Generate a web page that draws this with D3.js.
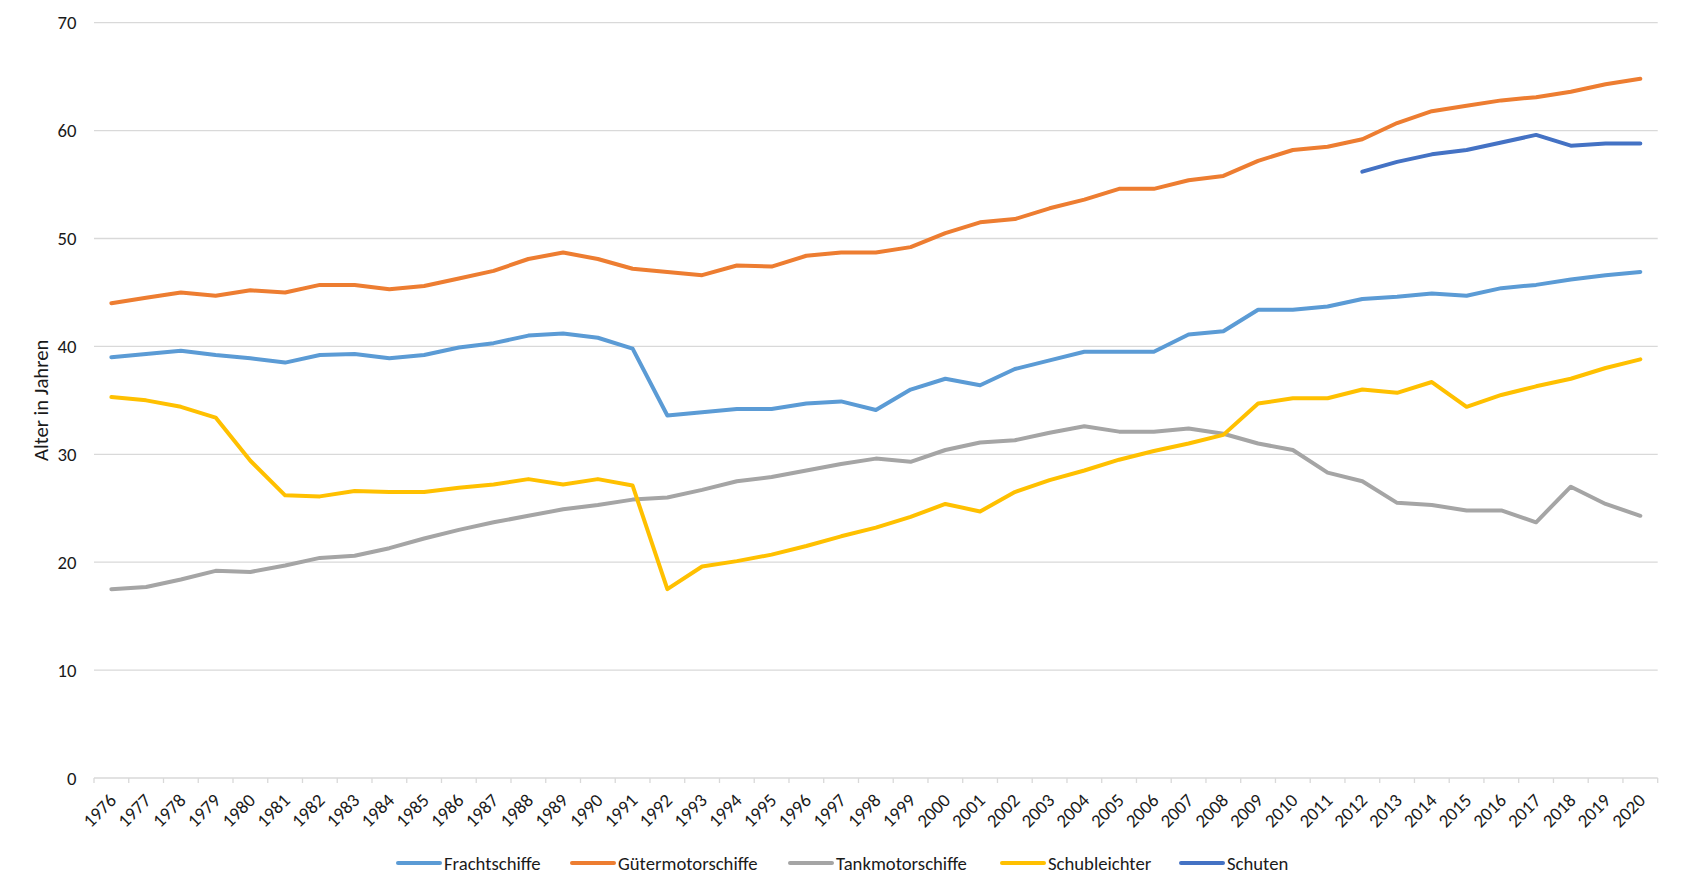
<!DOCTYPE html>
<html>
<head>
<meta charset="utf-8">
<script src="https://cdn.jsdelivr.net/npm/d3@7"></script>
<style>
  html, body { margin: 0; padding: 0; background: #fff; }
  svg { display: block; }
  text { font-family: Carlito, Lato, "Open Sans", sans-serif; fill: #1a1a1a; }
</style>
</head>
<body>
<svg id="chart" width="1681" height="894"></svg>
<script>
const years = ["1976","1977","1978","1979","1980","1981","1982","1983","1984","1985","1986","1987","1988","1989","1990","1991","1992","1993","1994","1995","1996","1997","1998","1999","2000","2001","2002","2003","2004","2005","2006","2007","2008","2009","2010","2011","2012","2013","2014","2015","2016","2017","2018","2019","2020"];

const frachtschiffe = [39.0,39.3,39.6,39.2,38.9,38.5,39.2,39.3,38.9,39.2,39.9,40.3,41.0,41.2,40.8,39.8,33.6,33.9,34.2,34.2,34.7,34.9,34.1,36.0,37.0,36.4,37.9,38.7,39.5,39.5,39.5,41.1,41.4,43.4,43.4,43.7,44.4,44.6,44.9,44.7,45.4,45.7,46.2,46.6,46.9];
const guetermotorschiffe = [44.0,44.5,45.0,44.7,45.2,45.0,45.7,45.7,45.3,45.6,46.3,47.0,48.1,48.7,48.1,47.2,46.9,46.6,47.5,47.4,48.4,48.7,48.7,49.2,50.5,51.5,51.8,52.8,53.6,54.6,54.6,55.4,55.8,57.2,58.2,58.5,59.2,60.7,61.8,62.3,62.8,63.1,63.6,64.3,64.8];
const tankmotorschiffe = [17.5,17.7,18.4,19.2,19.1,19.7,20.4,20.6,21.3,22.2,23.0,23.7,24.3,24.9,25.3,25.8,26.0,26.7,27.5,27.9,28.5,29.1,29.6,29.3,30.4,31.1,31.3,32.0,32.6,32.1,32.1,32.4,31.9,31.0,30.4,28.3,27.5,25.5,25.3,24.8,24.8,23.7,27.0,25.4,24.3];
const schubleichter = [35.3,35.0,34.4,33.4,29.4,26.2,26.1,26.6,26.5,26.5,26.9,27.2,27.7,27.2,27.7,27.1,17.5,19.6,20.1,20.7,21.5,22.4,23.2,24.2,25.4,24.7,26.5,27.6,28.5,29.5,30.3,31.0,31.8,34.7,35.2,35.2,36.0,35.7,36.7,34.4,35.5,36.3,37.0,38.0,38.8];
const schuten = [null,null,null,null,null,null,null,null,null,null,null,null,null,null,null,null,null,null,null,null,null,null,null,null,null,null,null,null,null,null,null,null,null,null,null,null,56.2,57.1,57.8,58.2,58.9,59.6,58.6,58.8,58.8];

const seriesNames = ["Frachtschiffe","Gütermotorschiffe","Tankmotorschiffe","Schubleichter","Schuten"];
const seriesColors = ["#5B9BD5","#ED7D31","#A5A5A5","#FFC000","#4472C4"];
const seriesValues = [frachtschiffe, guetermotorschiffe, tankmotorschiffe, schubleichter, schuten];
const yTicks = [0,10,20,30,40,50,60,70];

const svg = d3.select("#chart");
const pLeft = 94, pRight = 1657.7, pTop = 22.7, pBottom = 778;

const x = d3.scaleBand().domain(years).range([pLeft, pRight]).padding(0);
const y = d3.scaleLinear().domain([0, 70]).range([pBottom, pTop]);
const cx = d => x(d) + x.bandwidth() / 2;

// gridlines
svg.append("g").selectAll("line").data(yTicks.filter(t => t > 0)).join("line")
  .attr("x1", pLeft).attr("x2", pRight)
  .attr("y1", d => y(d)).attr("y2", d => y(d))
  .attr("stroke", "#D9D9D9").attr("stroke-width", 1.3);

// y labels
svg.append("g").selectAll("text").data(yTicks).join("text")
  .attr("x", pLeft - 17.5).attr("y", d => y(d))
  .attr("text-anchor", "end").attr("dominant-baseline", "central")
  .style("font-size", "18.7px")
  .text(d => d);

// x axis
const ax = svg.append("g");
ax.append("line").attr("x1", pLeft).attr("x2", pRight).attr("y1", pBottom).attr("y2", pBottom)
  .attr("stroke", "#D9D9D9").attr("stroke-width", 1.3);
const tickPos = years.map(d => x(d)).concat([x.range()[1]]);
ax.selectAll("line.tick").data(tickPos).join("line").attr("class", "tick")
  .attr("x1", d => d).attr("x2", d => d).attr("y1", pBottom).attr("y2", pBottom + 5)
  .attr("stroke", "#D9D9D9").attr("stroke-width", 1.3);
ax.selectAll("text").data(years).join("text")
  .attr("transform", d => `translate(${cx(d) + 1.5},${pBottom + 19}) rotate(-45)`)
  .attr("text-anchor", "end").attr("dominant-baseline", "central")
  .style("font-size", "18.7px")
  .text(d => d);

// y title
svg.append("text")
  .attr("transform", `translate(41,${(pTop + pBottom) / 2}) rotate(-90)`)
  .attr("text-anchor", "middle").attr("dominant-baseline", "central")
  .style("font-size", "20.7px")
  .text("Alter in Jahren");

// lines
const line = d3.line()
  .defined(d => d.v !== null)
  .x(d => cx(d.year)).y(d => y(d.v));

seriesValues.forEach((vals, i) => {
  const data = years.map((yr, j) => ({ year: yr, v: vals[j] }));
  svg.append("path").datum(data)
    .attr("fill", "none").attr("stroke", seriesColors[i])
    .attr("stroke-width", 4).attr("stroke-linecap", "round").attr("stroke-linejoin", "round")
    .attr("d", line);
});

// legend
const legendX = [398, 572, 790, 1002, 1181];
const legendY = 863;
const lg = svg.append("g");
seriesNames.forEach((name, i) => {
  lg.append("line").attr("x1", legendX[i]).attr("x2", legendX[i] + 42)
    .attr("y1", legendY).attr("y2", legendY)
    .attr("stroke", seriesColors[i]).attr("stroke-width", 4).attr("stroke-linecap", "round");
  lg.append("text").attr("x", legendX[i] + 46).attr("y", legendY)
    .attr("dominant-baseline", "central").style("font-size", "18.7px")
    .text(name);
});
</script>
</body>
</html>
